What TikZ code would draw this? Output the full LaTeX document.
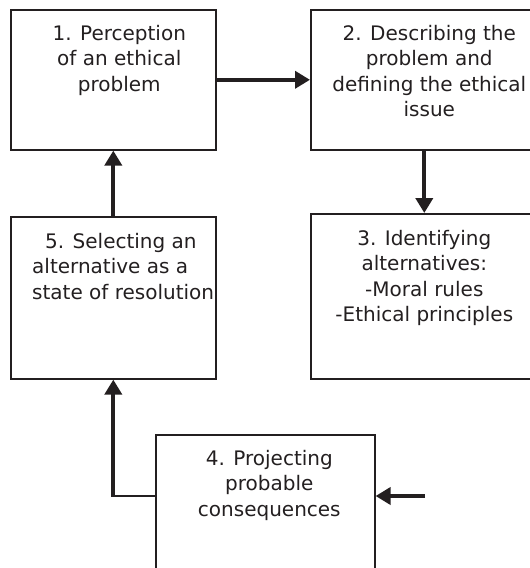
\documentclass[tikz,border=0pt]{standalone}
\usepackage{fontspec}
\setmainfont{DejaVu Sans}
\usetikzlibrary{positioning,arrows.meta}
\definecolor{inkblack}{RGB}{35,31,32}
\tikzset{>={Triangle[length=15pt,width=17pt]}}
\tikzset{
  stagebox/.style={draw=inkblack, line width=1.6pt, anchor=north west, inner sep=0pt},
  stagetext/.style={align=center, inner sep=0pt, text=inkblack,
    font=\fontsize{20}{25.5}\selectfont},
  flow/.style={->, line width=3.8pt, draw=inkblack},
  thinflow/.style={line width=1.8pt, draw=inkblack},
}

\begin{document}
\begin{tikzpicture}[x=1pt,y=-1pt]
    \useasboundingbox (0,0) rectangle (530,568);
    \clip (0,0) rectangle (530,568);
    % the five stages
    \node[stagebox, minimum width=205pt, minimum height=140pt] (percep) at (10,9) {};
    \node[stagebox, minimum width=227pt, minimum height=140pt] (describe) at (310,9) {};
    \node[stagebox, minimum width=227pt, minimum height=165pt] (identify) at (310,213) {};
    \node[stagebox, minimum width=205pt, minimum height=162pt] (select) at (10,216) {};
    \node[stagebox, minimum width=219pt, minimum height=150pt] (project) at (155,434) {};
    \node[stagetext, below=16pt of percep.north, xshift=6pt] (perceptext)
        {1. Perception\\of an ethical\\problem};
    \node[stagetext, below=16pt of describe.north, xshift=5pt] (describetext)
        {2. Describing the\\problem and\hspace*{18pt}\\defining the ethical\\issue};
    \node[stagetext, below=17pt of identify.north] (identifytext)
        {3. Identifying\\alternatives:\\-Moral rules\\-Ethical principles};
    \node[stagetext, align=left, below right=17pt and 22pt of select.north west] (selecttext)
        {\hspace*{13pt}5. Selecting an\\alternative as a\\state of resolution};
    \node[stagetext, below=16pt of project.north, xshift=4pt] (projecttext)
        {4. Projecting\\probable\\consequences};
    % connectors
    \draw[flow] (percep.east) -- (describe.west);
    \draw[flow] (describe.south) -- (identify.north);
    \draw[flow] (select.north) -- (percep.south);
    \coordinate (turn) at (select.south |- 0,496);
    \coordinate (feed) at (425,496);
    \draw[thinflow] (project.west |- feed) -- ([xshift=-1.9pt]turn);
    \draw[flow] (turn) -- (select.south);
    \draw[flow] (feed) -- (project.east |- feed);
\end{tikzpicture}
\end{document}
